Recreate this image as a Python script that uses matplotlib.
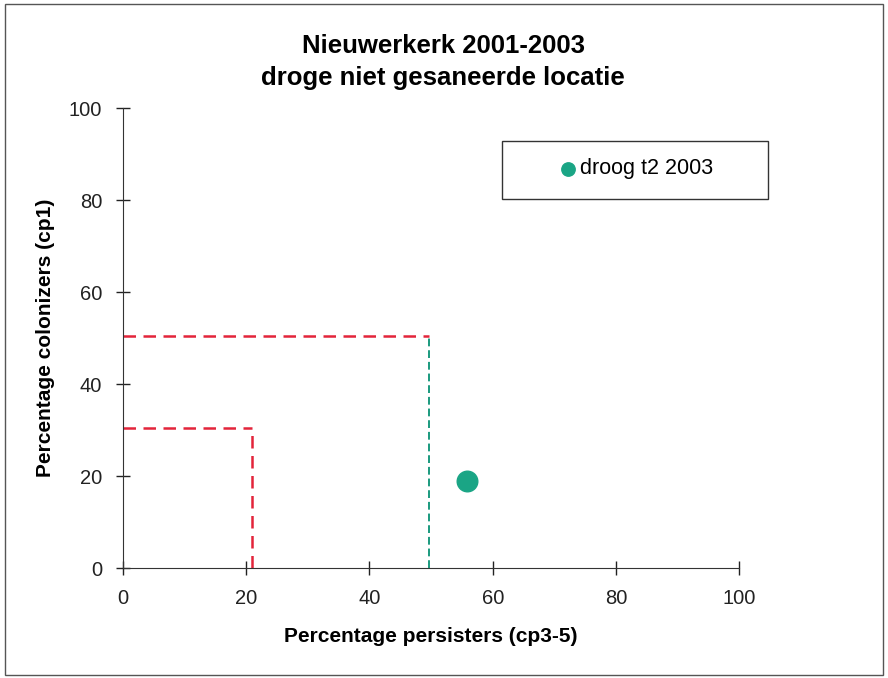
import matplotlib
matplotlib.use("Agg")
import matplotlib.pyplot as plt
from matplotlib.patches import Rectangle

plt.rcParams['font.family'] = ['Liberation Sans', 'DejaVu Sans']

# data
persisters = [55.8]
colonizers = [18.9]
series_label = 'droog t2 2003'

# reference lines (persisters, colonizers)
ref_red_x = [20.9, 49.7]
ref_red_y = [30.4, 50.4]

ticks = [0, 20, 40, 60, 80, 100]

red = '#e3243a'
green = '#1a9a7e'

fig = plt.figure(figsize=(8.88, 6.78), dpi=100)
ax = fig.add_axes([0.1385, 0.1622, 0.694, 0.6785])

# dashed boundary lines
ax.plot([0, ref_red_x[0]], [ref_red_y[0], ref_red_y[0]], color=red, ls=(0, (5, 3)), lw=1.8)
ax.plot([ref_red_x[0], ref_red_x[0]], [0, ref_red_y[0]], color=red, ls=(0, (5, 3)), lw=1.8)
ax.plot([0, ref_red_x[1]], [ref_red_y[1], ref_red_y[1]], color=red, ls=(0, (5, 3)), lw=1.8)
ax.plot([ref_red_x[1], ref_red_x[1]], [0, ref_red_y[1]], color=green, ls=(0, (4, 2)), lw=1.4)

ax.scatter(persisters, colonizers, s=220, color='#1aa585', zorder=3, label=series_label)

ax.set_xlim(0, 100)
ax.set_ylim(0, 100)
ax.set_xticks(ticks)
ax.set_yticks(ticks)
ax.tick_params(direction='inout', length=10, width=1, labelsize=14.5, pad=10, colors='#222222')
for s in ['top', 'right']:
    ax.spines[s].set_visible(False)
for s in ['left', 'bottom']:
    ax.spines[s].set_color('#333333')

ax.set_xlabel('Percentage persisters (cp3-5)', fontsize=15, fontweight='bold', labelpad=14)
ax.set_ylabel('Percentage colonizers (cp1)', fontsize=15, fontweight='bold', labelpad=10)

fig.text(0.499, 0.932, 'Nieuwerkerk 2001-2003', ha='center', va='center', fontsize=18.5, fontweight='bold')
fig.text(0.499, 0.885, 'droge niet gesaneerde locatie', ha='center', va='center', fontsize=18.5, fontweight='bold')

# legend box
fig.patches.append(Rectangle((502 / 888, 1 - 199 / 678), 266 / 888, 58 / 678,
                             transform=fig.transFigure, fill=False, edgecolor='#333333', lw=1))
fig.legend(loc='center', bbox_to_anchor=(0.715, 0.751), frameon=False, fontsize=15.5,
           handletextpad=0.05, markerscale=0.65, handlelength=1)

# outer border
fig.patches.append(Rectangle((0.006, 0.004), 0.988, 0.99, transform=fig.transFigure,
                             fill=False, edgecolor='#555555', lw=1))

fig.savefig('out.png', dpi=100)
